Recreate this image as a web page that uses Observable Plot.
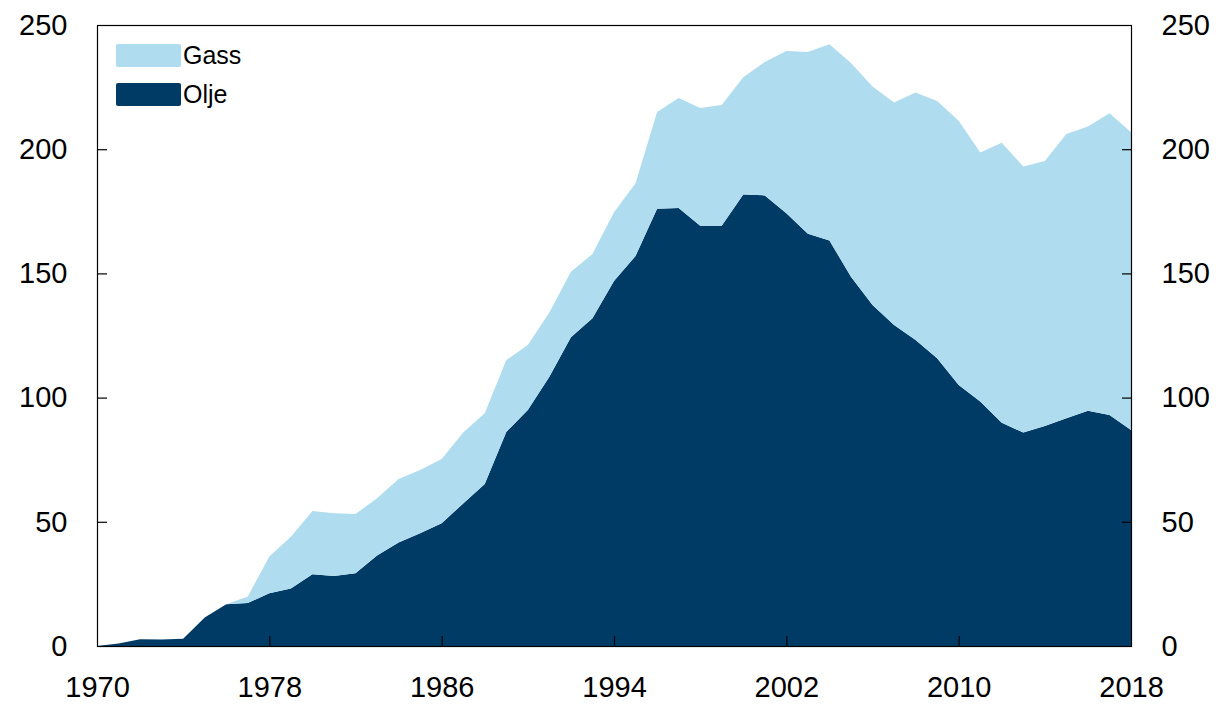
<!DOCTYPE html>
<html>
<head>
<meta charset="utf-8">
<script src="https://cdn.jsdelivr.net/npm/d3@7"></script>
<script src="https://cdn.jsdelivr.net/npm/@observablehq/plot@0.6"></script>
<style>
  html, body { margin: 0; padding: 0; background: #fff; }
  #wrap { position: relative; width: 1219px; height: 704px; font-family: "Liberation Sans", Arial, Helvetica, sans-serif; }
  .legend { position: absolute; left: 116px; top: 44px; font-size: 25px; color: #000; }
  .legend .row { display: flex; align-items: center; height: 23px; margin-bottom: 16px; }
  .legend .sw { width: 65px; height: 23px; border-radius: 2px; margin-right: 2px; }
</style>
</head>
<body>
<div id="wrap"></div>
<script>
const years = d3.range(1970, 2019);
const olje = [
  0, 1, 2.7, 2.6, 2.9, 11.5, 16.8, 17.3, 21.2, 23.1,
  28.9, 28.2, 29.3, 36.4, 41.7, 45.4, 49.4, 57.4, 65.2, 86.2,
  95, 108.4, 124.3, 131.9, 146.9, 157, 176, 176.3, 169.2, 169.2,
  181.8, 181.4, 174.2, 166, 163.2, 148.7, 137.3, 129.2, 123.2, 115.8,
  105.1, 98.4, 89.9, 85.9, 88.6, 91.7, 94.7, 93, 87
];
const gass = [
  0, 0, 0, 0, 0, 0, 0, 2.6, 14.8, 20.9,
  25.4, 25.2, 23.8, 23.1, 25.5, 25.5, 25.9, 28.5, 28.5, 28.9,
  26.2, 25.9, 26.4, 25.9, 27.7, 29.3, 39, 44.3, 47.4, 48.6,
  47.2, 53.7, 65.3, 73.1, 79.1, 86, 87.9, 89.6, 99.6, 103.6,
  106.4, 100.3, 112.7, 107.1, 106.6, 114.4, 114.4, 121.5, 119.8
];
const series = ["Olje", "Gass"];
const colors = {Olje: "#003b66", Gass: "#afdcee"};
const xLabelTicks = [1970, 1978, 1986, 1994, 2002, 2010, 2018];
const xInnerTicks = [1978, 1986, 1994, 2002, 2010];
const yLabelTicks = [0, 50, 100, 150, 200, 250];
const yInnerTicks = [50, 100, 150, 200];

const data = [];
years.forEach((y, i) => {
  data.push({year: y, type: "Olje", value: olje[i]});
  data.push({year: y, type: "Gass", value: gass[i]});
});

const font = "29px";
const chart = Plot.plot({
  width: 1219,
  height: 704,
  marginLeft: 97,
  marginRight: 88,
  marginTop: 25,
  marginBottom: 58,
  style: {fontFamily: '"Liberation Sans", Arial, Helvetica, sans-serif', fontSize: font, background: "#fff", color: "#000"},
  x: {type: "linear", domain: [1970, 2018], label: null},
  y: {domain: [0, 250], label: null},
  color: {domain: series, range: series.map(s => colors[s])},
  marks: [
    Plot.areaY(data, {x: "year", y: "value", fill: "type", order: series, curve: "linear"}),
    Plot.frame({stroke: "#000", strokeWidth: 1.2}),
    Plot.axisX({ticks: xLabelTicks, tickFormat: "d", tickSize: 0, tickPadding: 30, fontSize: font, label: null}),
    Plot.axisX({ticks: xInnerTicks, tickSize: -10, text: null, strokeWidth: 1.2, label: null}),
    Plot.axisY({anchor: "left", ticks: yLabelTicks, tickSize: 0, tickPadding: 30, fontSize: font, label: null}),
    Plot.axisY({anchor: "left", ticks: yInnerTicks, tickSize: -10, text: null, strokeWidth: 1.2, label: null}),
    Plot.axisY({anchor: "right", ticks: yLabelTicks, tickSize: 0, tickPadding: 30, fontSize: font, label: null}),
    Plot.axisY({anchor: "right", ticks: yInnerTicks, tickSize: -10, text: null, strokeWidth: 1.2, label: null})
  ]
});
const wrap = document.getElementById("wrap");
wrap.appendChild(chart);

const legend = document.createElement("div");
legend.className = "legend";
["Gass", "Olje"].forEach(s => {
  const row = document.createElement("div");
  row.className = "row";
  const sw = document.createElement("div");
  sw.className = "sw";
  sw.style.background = colors[s];
  const t = document.createElement("span");
  t.textContent = s;
  row.appendChild(sw);
  row.appendChild(t);
  legend.appendChild(row);
});
wrap.appendChild(legend);
</script>
</body>
</html>
